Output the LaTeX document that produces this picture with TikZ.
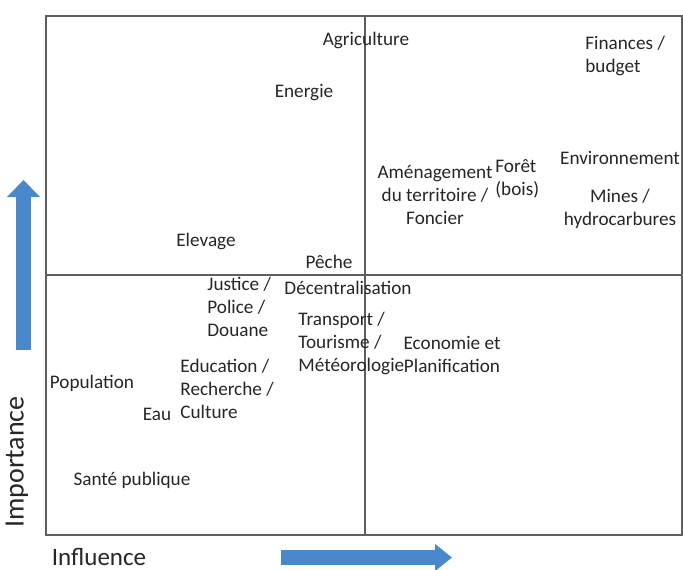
\documentclass[tikz,border=0pt]{standalone}
\usepackage{fontspec}
\setmainfont{Carlito}
\usetikzlibrary{arrows.meta}

\definecolor{bleu}{RGB}{74,136,204}
\definecolor{trait}{RGB}{95,95,95}
\tikzset{
  secteur/.style={font=\fontsize{9.6}{11.5}\selectfont, inner sep=0pt, text=black!85},
  axe/.style={color=trait, line width=0.8pt},
  fleche/.style={color=bleu, line width=7.5pt}
}

\begin{document}
\begin{tikzpicture}[x=0.5pt,y=-0.5pt]
  \useasboundingbox (0,0) rectangle (683,569);

  % cadre et quadrants
  \draw[axe] (46,16) rectangle (682,535);
  \draw[axe] (365,16) -- (365,535);
  \draw[axe] (46,275) -- (682,275);

  % fleches des axes
  \draw[fleche, -{Triangle[width=16pt,length=8.5pt]}] (23.5,350) -- (23.5,180);
  \draw[fleche, -{Triangle[width=13pt,length=8.5pt]}] (281,557.5) -- (452,557.5);
  \node[font=\fontsize{14}{16}\selectfont, rotate=90, text=black!85] (importance) at (17,462) {Importance};
  \node[font=\fontsize{12.5}{15}\selectfont, text=black!85] (influence) at (99,557) {Influence};

  % secteurs en haut
  \node[secteur] (agri) at (366,40) {Agriculture};
  \node[secteur] (energie) at (304,93) {Energie};
  \node[secteur, anchor=west, align=left] (finances) at (585,56) {Finances /\\budget};
  \node[secteur] (environ) at (620,158) {Environnement};
  \node[secteur, align=center] (mines) at (620,209) {Mines /\\hydrocarbures};
  \node[secteur, align=center] (amenag) at (435,195) {Aménagement\\du territoire /\\Foncier};
  \node[secteur, anchor=west, align=left] (foret) at (495,179) {Forêt\\(bois)};
  \node[secteur] (elevage) at (206,241) {Elevage};
  \node[secteur] (peche) at (329,262) {Pêche};

  % secteurs en bas
  \node[secteur] (decentr) at (348,288) {Décentralisation};
  \node[secteur, anchor=west, align=left] (justice) at (207,307) {Justice /\\Police /\\Douane};
  \node[secteur, anchor=west, align=left] (transport) at (298,343) {Transport /\\Tourisme /\\Météorologie};
  \node[secteur, align=center] (economie) at (452,354) {Economie et\\Planification};
  \node[secteur, anchor=west, align=left] (education) at (180,389) {Education /\\Recherche /\\Culture};
  \node[secteur] (population) at (92,383) {Population};
  \node[secteur] (eau) at (157,414) {Eau};
  \node[secteur] (sante) at (132,480) {Santé publique};
\end{tikzpicture}
\end{document}
